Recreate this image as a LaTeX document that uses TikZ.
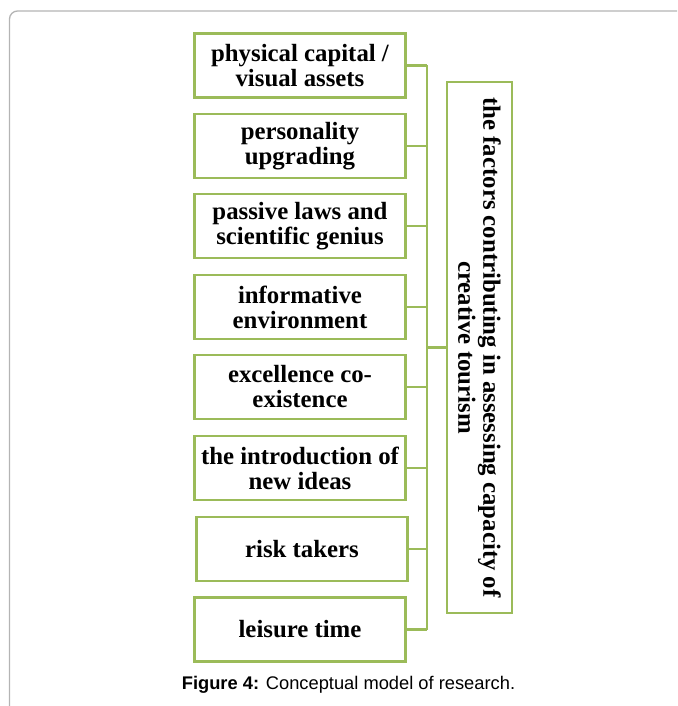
\documentclass[tikz,border=0pt]{standalone}
\usepackage{fontspec}
\setmainfont{Liberation Serif}
\newfontfamily\capfont{Liberation Sans}
\definecolor{olivegr}{HTML}{9BBB59}
\definecolor{framegray}{HTML}{B4B4B4}
\begin{document}
\begin{tikzpicture}[x=1pt,y=-1pt,
  factor/.style={draw=olivegr,line width=2.6pt,fill=white,minimum width=211pt,minimum height=64pt,
    align=center,font=\fontsize{24.8}{25}\selectfont\bfseries,inner sep=0pt},
  link/.style={draw=olivegr,line width=2.4pt}]
\useasboundingbox (0,0) rectangle (677,706);
\begin{scope}
\clip (0,0) rectangle (677,706);
\draw[framegray,line width=1.3pt,rounded corners=8pt] (9.5,11) rectangle (700,730);
\end{scope}
\node[factor] (f1) at (300,65.5) {physical capital /\\visual assets};
\node[factor] (f2) at (300,146) {personality\\upgrading};
\node[factor] (f3) at (300,226) {passive laws and\\scientific genius};
\node[factor] (f4) at (300,307) {informative\\environment};
\node[factor] (f5) at (300,387) {excellence co-\\existence};
\node[factor] (f6) at (300,468) {the introduction of\\new ideas};
\node[factor] (f7) at (302,549) {risk takers};
\node[factor] (f8) at (300,629.5) {leisure time};
\node[draw=olivegr,line width=2.6pt,minimum width=65pt,minimum height=531pt,inner sep=0pt] (goal) at (479.5,347.5) {};
\node[rotate=-90,align=center,font=\fontsize{24.8}{25}\selectfont\bfseries] (gt) at (goal.center) {the factors contributing in assessing capacity of\\creative tourism};
\coordinate (bus) at (427,347.5);
\foreach \i in {1,...,8} {
  \draw[link] (f\i.east) -- (f\i.east -| bus);
}
\draw[link] (f1.east -| bus) -- (f8.east -| bus);
\draw[link] (bus) -- (goal.west);
\node[font=\capfont\fontsize{18.3}{20}\selectfont,anchor=center] (cap) at (348.5,685) {\textbf{Figure 4:} Conceptual model of research.};
\end{tikzpicture}
\end{document}
